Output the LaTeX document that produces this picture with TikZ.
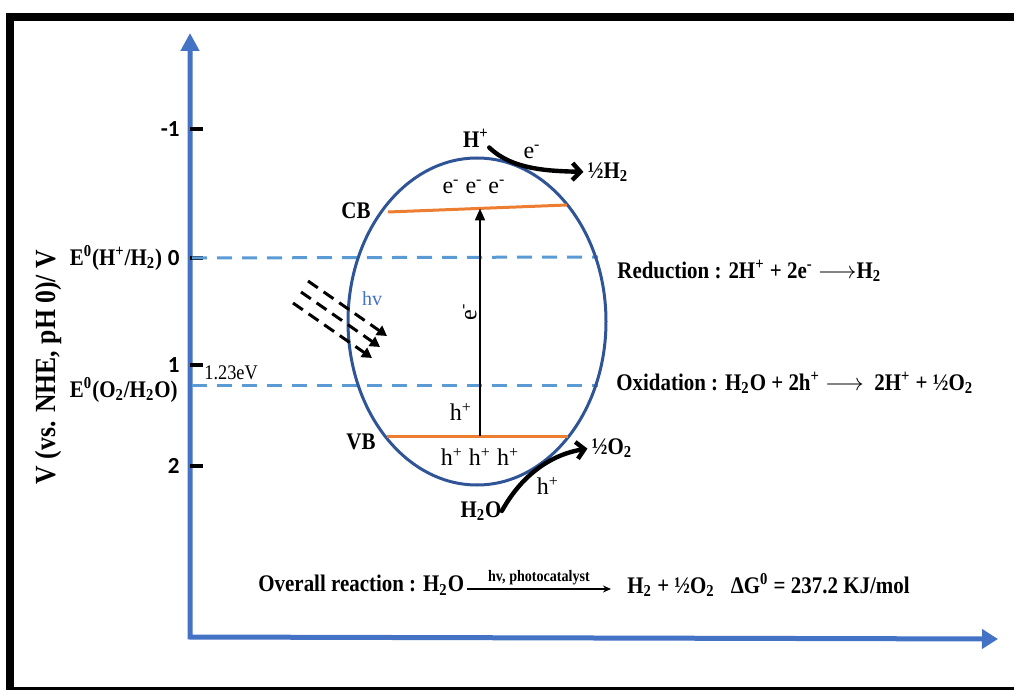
\documentclass[tikz,border=0pt]{standalone}
\usepackage{fontspec}
\setmainfont{Liberation Serif}
\newfontfamily\condfont[FakeStretch=0.88]{Liberation Serif}
\newfontfamily\numfont{Carlito}
\usepackage{tikz}
\usetikzlibrary{positioning,arrows.meta,shapes.geometric}
\definecolor{axisblue}{HTML}{4472C4}
\definecolor{catblue}{HTML}{2F5597}
\definecolor{lvlblue}{HTML}{5B9BD5}
\definecolor{bandorange}{HTML}{ED7D31}

\begin{document}
\begin{tikzpicture}[
  x=0.5pt, y=-0.5pt,
  frame/.style={line width=4pt, black},
  axis/.style={line width=2.5pt, draw=axisblue, line join=miter,
               {Triangle[length=9pt,width=9pt]}-{Triangle[length=8pt,width=9.5pt]}},
  tick/.style={line width=2pt, black},
  lvl/.style={line width=1.5pt, draw=lvlblue, dash pattern=on 7.5pt off 5pt},
  cat/.style={draw=catblue, line width=1.5pt, ellipse, minimum width=129pt,
              minimum height=163.5pt, inner sep=0pt},
  band/.style={line width=1.5pt, draw=bandorange},
  lbl/.style={font=\condfont\fontsize{11.9}{13}\selectfont\bfseries, inner sep=0pt},
  txt/.style={font=\fontsize{12}{14}\selectfont, inner sep=0pt},
  num/.style={font=\fontsize{11.5}{13}\selectfont\numfont\bfseries, inner sep=0pt},
  ray/.style={line width=1.5pt, dash pattern=on 6pt off 3.5pt, -{Triangle[length=5pt,width=5.5pt]}},
  arr/.style={line width=1pt, -{Triangle[length=6pt,width=5pt]}},
  flow/.style={line width=2.2pt, line cap=round, -{Straight Barb[length=4pt,width=8.5pt,line width=2.2pt]}},
  rxn/.style={line width=0.6pt, -{Stealth[length=4pt,width=3.5pt]}}
]
\useasboundingbox (0,0) rectangle (1014,690);
\draw[frame] (6,17) -- (1014,17);
\draw[frame] (10,13) -- (10,690);
\draw[line width=1.5pt] (8,688) -- (1014,688);

\draw[axis] (190,33) -- (190,637) -- (998,639);
\foreach \v/\y/\nm in {-1/129/m, 0/258/z, 1/365/o, 2/466/t} {
  \draw[tick] (190,\y) -- (203,\y);
  \node[num, anchor=east] (n\nm) at (180,\y) {\v};
}
\node[lbl, left=2.5pt of nz] (eh2) {E\textsuperscript{0}(H\textsuperscript{+}/H\textsubscript{2})};
\node[lbl, anchor=east] (eo2) at (178,390) {E\textsuperscript{0}(O\textsubscript{2}/H\textsubscript{2}O)};
\node[font=\condfont\fontsize{10.4}{12}\selectfont, anchor=west, inner sep=0pt] (gap) at (204,373) {1.23eV};
\node[font=\condfont\fontsize{14.6}{16}\selectfont\bfseries, rotate=90, inner sep=0pt] (ylab) at (48,367) {V (vs. NHE, pH 0)/ V};

\coordinate (h2a) at (192,258);
\coordinate (h2b) at (598,257);
\coordinate (o2a) at (192,386);
\coordinate (o2b) at (598,386);
\draw[lvl] (h2a) -- (h2b);
\draw[lvl] (o2a) -- (o2b);

\node[cat] (cat) at (477,321.5) {};
\coordinate (cbL) at (388,212);
\coordinate (cbR) at (567,205);
\coordinate (vbL) at (387,436);
\coordinate (vbR) at (568,436);
\coordinate (cbM) at (480,208.5);
\coordinate (vbM) at (480,436);
\draw[band] (cbL) -- (cbR);
\draw[band] (vbL) -- (vbR);
\draw[arr] (vbM) -- (cbM);

\node[lbl] (cb) at (356,211) {CB};
\node[lbl] (vb) at (361,442) {VB};
\node[txt] (ecb) at (474,187) {e\textsuperscript{-} e\textsuperscript{-} e\textsuperscript{-}};
\node[txt] (hvb) at (480,457) {h\textsuperscript{+} h\textsuperscript{+} h\textsuperscript{+}};
\node[txt, rotate=90] (eup) at (470,312) {e\textsuperscript{-}};
\node[txt] (hup) at (461,412) {h\textsuperscript{+}};

\node[lbl] (hp) at (476,138) {H\textsuperscript{+}};
\node[lbl] (h2) at (608,172) {½H\textsubscript{2}};
\node[txt] (etop) at (532,152) {e\textsuperscript{-}};
\draw[flow, shorten >=2pt] (hp.south east) .. controls (512,170) and (550,171) .. (h2.west);

\node[lbl] (h2o) at (481,511) {H\textsubscript{2}O};
\node[lbl] (o2) at (612,448) {½O\textsubscript{2}};
\node[txt] (hbot) at (548,486) {h\textsuperscript{+}};
\draw[flow, shorten >=2pt] (h2o.east) .. controls (520,478) and (548,455) .. (o2.west);

\node[font=\fontsize{10}{12}\selectfont, text=axisblue, inner sep=0pt] (hv) at (372,299) {hv};
\foreach \sx/\sy in {308/281, 301/292, 293/303}
  \draw[ray] (\sx,\sy) -- ++(79,55);

\node[lbl, anchor=west] (red) at (617,271) {Reduction : 2H\textsuperscript{+} + 2e\textsuperscript{-} $\longrightarrow$H\textsubscript{2}};
\node[lbl, anchor=west] (ox) at (616,383) {Oxidation : H\textsubscript{2}O + 2h\textsuperscript{+} $\longrightarrow$\ \ 2H\textsuperscript{+} + ½O\textsubscript{2}};

\node[lbl, anchor=west] (ovl) at (258,585) {Overall reaction : H\textsubscript{2}O};
\coordinate (rxA) at (467,589);
\coordinate (rxB) at (611,589);
\draw[rxn] (rxA) -- node[above=1.5pt, font=\condfont\fontsize{8}{9}\selectfont\bfseries, inner sep=0pt] (cond) {hv, photocatalyst} (rxB);
\node[lbl, anchor=west] (prod) at (627,585) {H\textsubscript{2} + ½O\textsubscript{2}\hspace{8pt}ΔG\textsuperscript{0} = 237.2 KJ/mol};
\end{tikzpicture}
\end{document}
